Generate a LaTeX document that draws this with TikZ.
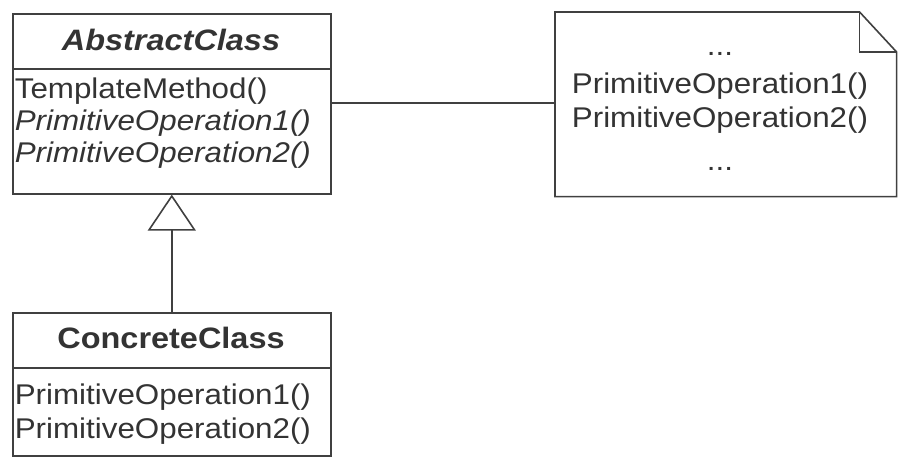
\documentclass[tikz,border=0pt]{standalone}
\usepackage{fontspec}
\setmainfont[FakeStretch=1.1]{Liberation Sans}
\usetikzlibrary{arrows.meta}
\begin{document}
\begin{tikzpicture}[x=1pt,y=-1pt,
  line width=1.6pt,
  every node/.style={inner sep=0pt, text=black!80},
  umlbox/.style={draw=black!75, rectangle, anchor=north west},
  txt/.style={font=\fontsize{28.5}{32}\selectfont, anchor=base west},
  ctxt/.style={font=\fontsize{28.5}{32}\selectfont, anchor=base},
  ttl/.style={font=\fontsize{29.5}{32}\selectfont\bfseries, anchor=base},
  conn/.style={draw=black!75}
]
\useasboundingbox (0,0) rectangle (915,471);
% Abstract class
\node[umlbox, minimum width=318pt, minimum height=180pt] (abs) at (12,13) {};
\draw[black!75] (abs.west |- 0,69) -- (abs.east |- 0,69);
\node[ttl] (absT) at (171,50) {\itshape AbstractClass};
\node[txt] (absA) at (14,98) {TemplateMethod()};
\node[txt] (absB) at (14,130) {\itshape PrimitiveOperation1()};
\node[txt] (absC) at (14,162) {\itshape PrimitiveOperation2()};
% Concrete class
\node[umlbox, minimum width=318pt, minimum height=143pt] (conc) at (12,312) {};
\draw[black!75] (conc.west |- 0,368) -- (conc.east |- 0,368);
\node[ttl] (concT) at (171,348) {ConcreteClass};
\node[txt] (concA) at (14,404) {PrimitiveOperation1()};
\node[txt] (concB) at (14,438) {PrimitiveOperation2()};
% Note
\node[anchor=north west, minimum width=340pt, minimum height=183pt] (note) at (555,12) {};
\draw[black!75, line join=miter]
  (note.south west) -- (note.north west) -- ([xshift=-37pt]note.north east)
  -- ([yshift=-40pt]note.north east) -- (note.south east) -- cycle;
\draw[black!75] ([xshift=-37pt]note.north east) -- ([xshift=-37pt,yshift=-40pt]note.north east)
  -- ([yshift=-40pt]note.north east);
\node[ctxt] (noteA) at (720,55) {...};
\node[ctxt] (noteB) at (720,93) {PrimitiveOperation1()};
\node[ctxt] (noteC) at (720,127) {PrimitiveOperation2()};
\node[ctxt] (noteD) at (720,170) {...};
% connectors
\draw[conn] (abs.east |- 0,103) -- (note.west |- 0,103);
\draw[conn, -{Triangle[open, length=36pt, width=48pt, fill=white]}] (conc.north) -- (abs.south);
\end{tikzpicture}
\end{document}
